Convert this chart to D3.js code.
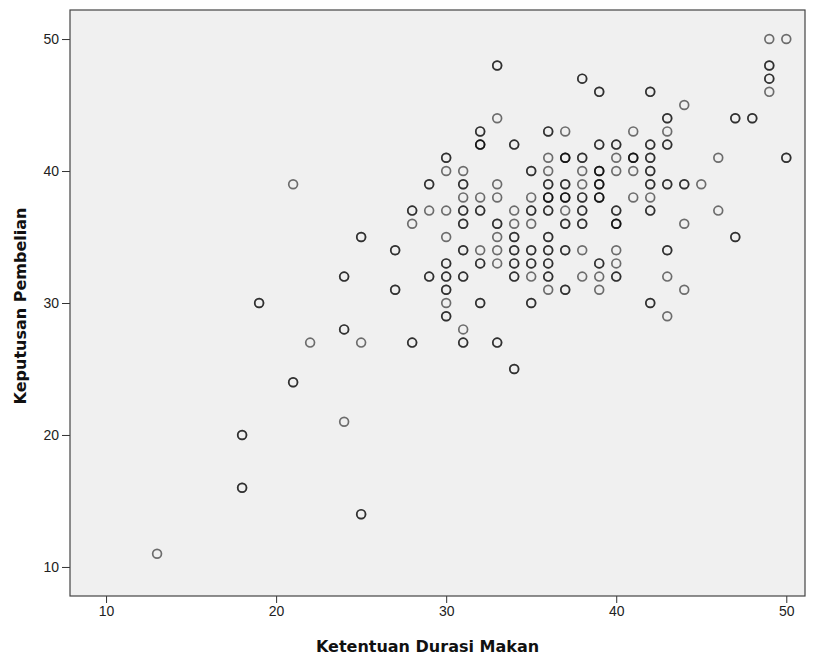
<!DOCTYPE html>
<html>
<head>
<meta charset="utf-8">
<script src="https://cdn.jsdelivr.net/npm/d3@7"></script>
<style>
  body { margin: 0; background: #fff; }
  .tick text { font-family: 'Liberation Sans', Arial, sans-serif; font-size: 14px; fill: #222; }
  .axis-title { font-family: 'DejaVu Sans', Verdana, sans-serif; font-size: 16px; font-weight: bold; fill: #111; }
</style>
</head>
<body>
<div class="chart"></div>
<script>
// Ketentuan Durasi Makan (x) vs Keputusan Pembelian (y)
// overlapping respondents are listed more than once
const points = [
  [13, 11], [18, 20], [18, 20], [18, 16], [18, 16], [19, 30], [19, 30],
  [21, 24], [21, 24], [21, 39], [22, 27], [24, 21], [24, 28], [24, 28],
  [24, 32], [24, 32], [25, 14], [25, 14], [25, 35], [25, 35], [25, 27],
  [27, 34], [27, 34], [27, 31], [27, 31], [28, 37], [28, 37], [28, 36],
  [28, 27], [28, 27], [29, 39], [29, 39], [29, 37], [29, 32], [29, 32],
  [30, 41], [30, 41], [30, 40], [30, 37], [30, 35], [30, 33], [30, 33],
  [30, 32], [30, 32], [30, 31], [30, 31], [30, 30], [30, 29], [30, 29],
  [31, 40], [31, 39], [31, 39], [31, 38], [31, 37], [31, 37], [31, 36], [31, 36],
  [31, 34], [31, 34], [31, 32], [31, 32], [31, 28], [31, 27], [31, 27],
  [32, 43], [32, 43], [32, 42], [32, 42], [32, 42], [32, 38], [32, 37], [32, 37],
  [32, 34], [32, 33], [32, 33], [32, 30], [32, 30],
  [33, 48], [33, 48], [33, 44], [33, 39], [33, 38], [33, 36], [33, 36],
  [33, 35], [33, 34], [33, 33], [33, 27], [33, 27],
  [34, 42], [34, 42], [34, 37], [34, 36], [34, 35], [34, 35], [34, 34], [34, 34],
  [34, 33], [34, 33], [34, 32], [34, 32], [34, 25], [34, 25],
  [35, 40], [35, 40], [35, 38], [35, 37], [35, 37], [35, 36], [35, 34], [35, 34],
  [35, 33], [35, 33], [35, 32], [35, 30], [35, 30],
  [36, 43], [36, 43], [36, 41], [36, 40], [36, 39], [36, 39], [36, 38], [36, 38], [36, 38],
  [36, 37], [36, 37], [36, 35], [36, 35], [36, 34], [36, 34], [36, 33], [36, 33],
  [36, 32], [36, 32], [36, 31],
  [37, 43], [37, 41], [37, 41], [37, 41], [37, 39], [37, 39], [37, 38], [37, 38], [37, 38],
  [37, 37], [37, 36], [37, 36], [37, 34], [37, 34], [37, 31], [37, 31],
  [38, 47], [38, 47], [38, 41], [38, 41], [38, 40], [38, 39], [38, 38], [38, 38],
  [38, 37], [38, 37], [38, 36], [38, 36], [38, 34], [38, 32],
  [39, 46], [39, 46], [39, 42], [39, 42], [39, 40], [39, 40], [39, 40], [39, 39], [39, 39], [39, 39],
  [39, 38], [39, 38], [39, 38], [39, 33], [39, 33], [39, 32], [39, 31],
  [40, 42], [40, 42], [40, 41], [40, 40], [40, 37], [40, 37], [40, 36], [40, 36], [40, 36],
  [40, 34], [40, 33], [40, 32], [40, 32],
  [41, 43], [41, 41], [41, 41], [41, 41], [41, 40], [41, 38],
  [42, 46], [42, 46], [42, 42], [42, 42], [42, 41], [42, 41], [42, 40], [42, 40],
  [42, 39], [42, 39], [42, 38], [42, 37], [42, 37], [42, 30], [42, 30],
  [43, 44], [43, 44], [43, 43], [43, 42], [43, 42], [43, 39], [43, 39], [43, 34], [43, 34],
  [43, 32], [43, 29],
  [44, 45], [44, 39], [44, 39], [44, 36], [44, 31],
  [45, 39], [46, 41], [46, 37], [47, 44], [47, 44], [47, 35], [47, 35], [48, 44], [48, 44],
  [49, 50], [49, 48], [49, 48], [49, 47], [49, 47], [49, 46], [50, 50], [50, 41], [50, 41]
];

const xTicks = [10, 20, 30, 40, 50];
const yTicks = [10, 20, 30, 40, 50];

const margin = { top: 10, right: 8, bottom: 66, left: 70 };
const width = 813 - margin.left - margin.right;
const height = 662 - margin.top - margin.bottom;

const svg = d3.select('.chart')
  .append('svg')
  .attr('width', 813)
  .attr('height', 662)
  .append('g')
  .attr('transform', `translate(${margin.left}, ${margin.top})`);

const xScale = d3.scaleLinear()
  .domain([7.88, 51.1])
  .range([0, width]);

const yScale = d3.scaleLinear()
  .domain([7.8, 52.2])
  .range([height, 0]);

svg.append('rect')
  .attr('width', width)
  .attr('height', height)
  .attr('fill', '#f0f0f0');

svg.append('g')
  .attr('transform', `translate(0, ${height})`)
  .call(d3.axisBottom(xScale).tickValues(xTicks).tickSize(7).tickPadding(3))
  .call(g => g.select('.domain').remove())
  .selectAll('line').attr('stroke', '#333');

svg.append('g')
  .call(d3.axisLeft(yScale).tickValues(yTicks).tickSize(8).tickPadding(3))
  .call(g => g.select('.domain').remove())
  .selectAll('line').attr('stroke', '#333');

svg.append('rect')
  .attr('width', width)
  .attr('height', height)
  .attr('fill', 'none')
  .attr('stroke', '#444')
  .attr('stroke-width', 1.2);

svg.selectAll('circle.pt')
  .data(points)
  .enter()
  .append('circle')
  .attr('class', 'pt')
  .attr('cx', d => xScale(d[0]))
  .attr('cy', d => yScale(d[1]))
  .attr('r', 4.4)
  .attr('fill', 'none')
  .attr('stroke', '#000')
  .attr('stroke-opacity', 0.55)
  .attr('stroke-width', 1.7);

svg.append('text')
  .attr('class', 'axis-title')
  .attr('x', width / 2 - 10)
  .attr('y', height + 56)
  .attr('text-anchor', 'middle')
  .text('Ketentuan Durasi Makan');

svg.append('text')
  .attr('class', 'axis-title')
  .attr('transform', `translate(${-44}, ${height / 2 + 3}) rotate(-90)`)
  .attr('text-anchor', 'middle')
  .text('Keputusan Pembelian');
</script>
</body>
</html>
